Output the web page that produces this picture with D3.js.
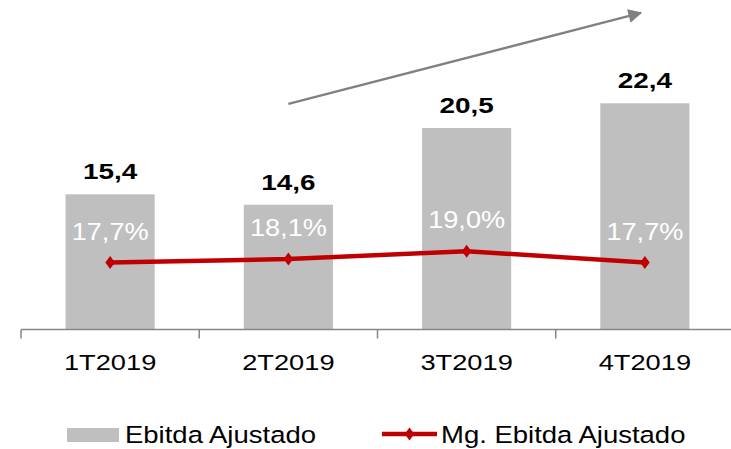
<!DOCTYPE html>
<html><head><meta charset="utf-8">
<script src="https://cdn.jsdelivr.net/npm/d3@7"></script>
<style>body{margin:0;background:#fff}svg{display:block}text{font-family:Arial,"Liberation Sans",sans-serif}</style>
</head><body>
<svg id="c" width="731" height="449"></svg>
<script>
const categories = ["1T2019","2T2019","3T2019","4T2019"];
const ebitda = [15.4, 14.6, 20.5, 22.4];
const ebitdaLabels = ["15,4","14,6","20,5","22,4"];
const margin = [17.7, 18.1, 19.0, 17.7];
const marginLabels = ["17,7%","18,1%","19,0%","17,7%"];
const legendLabels = ["Ebitda Ajustado","Mg. Ebitda Ajustado"];

const svg = d3.select("#c");
// place text at (px,py) with horizontal stretch sx
const place = (px, py, sx) => `translate(${px},${py}) scale(${sx},1)`;

const x = d3.scaleBand().domain(categories).range([21, 734]).paddingInner(0.5).paddingOuter(0.25);
const y = d3.scaleLinear().domain([5, 25]).range([329.5, 69.5]);
const y2 = d3.scaleLinear().domain([10, 30]).range([329.5, 155.5]);
const cx = c => x(c) + x.bandwidth()/2;

// bars
svg.selectAll("rect.bar").data(categories).join("rect").attr("class","bar")
  .attr("x", c => x(c)).attr("width", x.bandwidth())
  .attr("y", (c,i) => y(ebitda[i])).attr("height", (c,i) => y(5) - y(ebitda[i]))
  .attr("fill", "#BFBFBF");

// axis
const axisG = svg.append("g").attr("transform", `translate(0,${y(5)})`);
axisG.append("line").attr("x1", 21).attr("x2", 731).attr("y1",0).attr("y2",0)
  .attr("stroke","#868686").attr("stroke-width",1.5);
const step = x.step();
const tickXs = d3.range(categories.length+1).map(i => 21 + i*step);
axisG.selectAll("line.tick").data(tickXs).join("line").attr("class","tick")
  .attr("x1", d=>d).attr("x2", d=>d).attr("y1",0).attr("y2",9)
  .attr("stroke","#868686").attr("stroke-width",1.5);
axisG.selectAll("text.cat").data(categories).join("text").attr("class","cat")
  .attr("transform", c => place(cx(c), 40, 1.21)).attr("text-anchor","middle")
  .attr("font-size", 22.5).attr("fill","#000").text(c=>c);

// value labels
svg.selectAll("text.val").data(categories).join("text").attr("class","val")
  .attr("transform", (c,i) => place(cx(c), y(ebitda[i]) - 15, 1.24)).attr("text-anchor","middle")
  .attr("font-size", 22.5).attr("font-weight","bold").attr("fill","#000")
  .text((c,i)=>ebitdaLabels[i]);

// margin line
const line = d3.line().x((d,i)=>cx(categories[i])).y(d=>y2(d));
svg.append("path").datum(margin).attr("d", line).attr("fill","none")
  .attr("stroke","#C00000").attr("stroke-width",4.5).attr("stroke-linejoin","round");
const diamond = d3.symbol().type(d3.symbolDiamond).size(60);
svg.selectAll("path.mk").data(margin).join("path").attr("class","mk")
  .attr("d", diamond).attr("transform",(d,i)=>`translate(${cx(categories[i])},${y2(d)}) scale(1.15,0.9)`)
  .attr("fill","#C00000");

// margin labels
svg.selectAll("text.pct").data(margin).join("text").attr("class","pct")
  .attr("transform",(d,i)=>place(cx(categories[i]), y2(d) - 23, 1.18)).attr("text-anchor","middle")
  .attr("font-size", 23).attr("fill","#fff").text((d,i)=>marginLabels[i]);

// trend arrow
const defs = svg.append("defs");
defs.append("marker").attr("id","ah").attr("viewBox","0 0 10 10").attr("refX",9).attr("refY",5)
  .attr("markerWidth",6.5).attr("markerHeight",6).attr("orient","auto").attr("markerUnits","strokeWidth")
  .append("path").attr("d","M0,0 L10,5 L0,10 Z").attr("fill","#808080");
svg.append("line")
  .attr("x1", cx(categories[1])).attr("y1", y(22.35))
  .attr("x2", cx(categories[3]) - 4).attr("y2", y(29.35))
  .attr("stroke","#808080").attr("stroke-width",2.3).attr("marker-end","url(#ah)");

// legend
const lg = svg.append("g");
lg.append("rect").attr("x",67).attr("y",428).attr("width",52).attr("height",14).attr("fill","#BFBFBF");
lg.append("text").attr("transform",place(125,442.5,1.17)).attr("font-size",23.5).attr("fill","#000").text(legendLabels[0]);
lg.append("line").attr("x1",382).attr("x2",437).attr("y1",434).attr("y2",434).attr("stroke","#C00000").attr("stroke-width",4.5);
lg.append("path").attr("d",diamond).attr("transform","translate(409.5,434) scale(1.15,0.9)").attr("fill","#C00000");
lg.append("text").attr("transform",place(441,442.5,1.17)).attr("font-size",23.5).attr("fill","#000").text(legendLabels[1]);
</script>
</body></html>
